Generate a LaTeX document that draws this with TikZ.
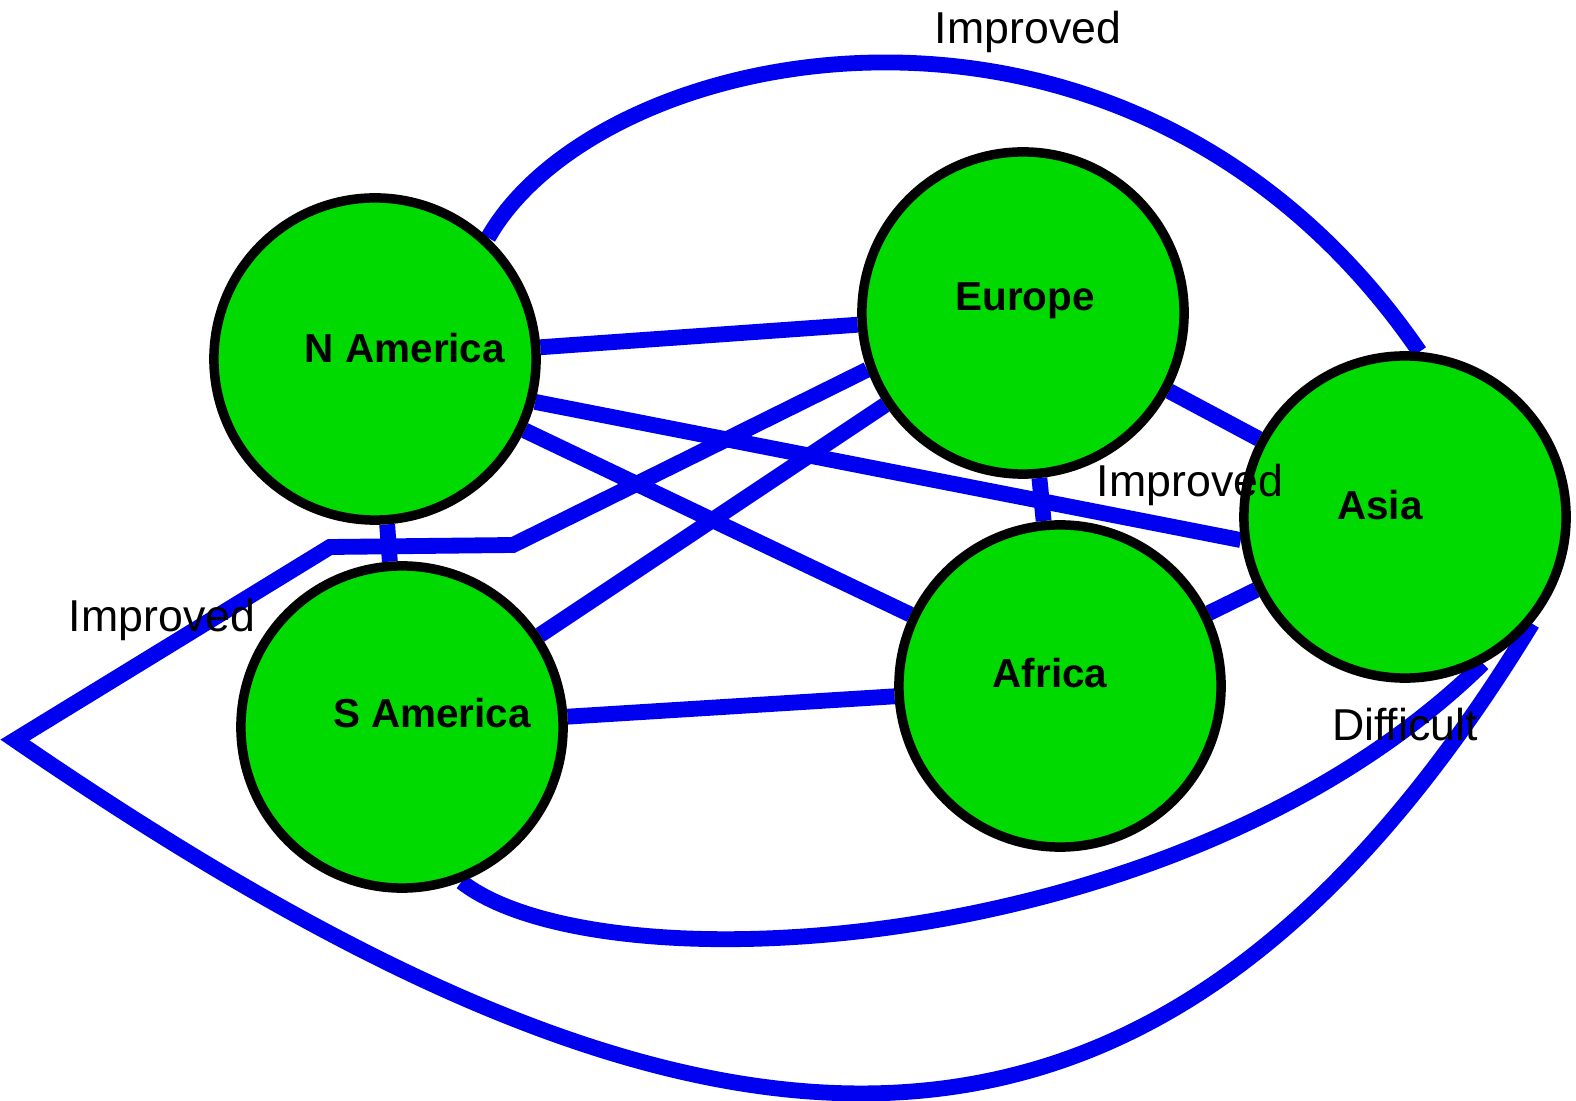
\documentclass[tikz,border=0pt]{standalone}
\usepackage{fontspec}
\setmainfont{Liberation Sans}
\usetikzlibrary{backgrounds,positioning}
\definecolor{landgreen}{RGB}{0,218,0}
\definecolor{routeblue}{RGB}{0,0,240}
\tikzset{
    region/.style     = {draw, circle, line width=2.7pt, fill=landgreen,
                         minimum size=3.22cm, inner sep=0pt},
    regionname/.style = {font=\fontsize{11.5}{13}\selectfont\bfseries,
                         inner sep=0pt},
    link/.style       = {draw=routeblue, line width=4.5pt},
    note/.style       = {font=\fontsize{12.7}{15}\selectfont, inner sep=0pt}
}
\begin{document}
\begin{tikzpicture}[x=0.01cm, y=-0.01cm]
\useasboundingbox (0,0) rectangle (1576,1101);

\node[region] (namerica) at (375,359) {};
\node[region] (europe)   at (1023,313) {};
\node[region] (asia)     at (1405,517) {};
\node[region] (africa)   at (1060,686) {};
\node[region] (samerica) at (402,727) {};

\node[regionname] (namerica name) at ([shift={(30,-11)}]namerica.center) {N America};
\node[regionname] (europe name)   at ([shift={(2,-12)}]europe.center) {Europe};
\node[regionname] (asia name)     at ([shift={(-25,-12)}]asia.center) {Asia};
\node[regionname] (africa name)   at ([shift={(-10,-13)}]africa.center) {Africa};
\node[regionname] (samerica name) at ([shift={(30,-14)}]samerica.center) {S America};

% bends of the long way round
\coordinate (bend1) at (513,545);
\coordinate (bend2) at (330,547);
\coordinate (tip)   at (15,740);

\begin{scope}[on background layer]
    \draw[link] (namerica) -- (europe);
    \draw[link] (namerica.-15) -- (asia.188);
    \draw[link] (namerica) -- (africa);
    \draw[link] (namerica) -- (samerica);
    \draw[link] (europe) -- (samerica);
    \draw[link] (europe) -- (asia);
    \draw[link] (europe) -- (africa);
    \draw[link] (samerica) -- (africa);
    \draw[link] (africa) -- (asia);
    \draw[link] (namerica.47) .. controls (600,40) and (1130,-70) .. (asia.85);
    \draw[link] (samerica.-69) .. controls (600,990) and (1180,960) .. (asia.-62);
    \draw[link] (europe.200) -- (bend1) -- (bend2) -- (tip)
        .. controls (700,1210) and (1150,1250) .. (asia.-40);
\end{scope}

\node[note] (top note)  at (1028,32)  {Improved};
\node[note] (mid note)  at (1190,485) {Improved};
\node[note] (left note) at (162,620)  {Improved};
\node[note] (low note)  at (1405,725) {Difficult};

\end{tikzpicture}
\end{document}
